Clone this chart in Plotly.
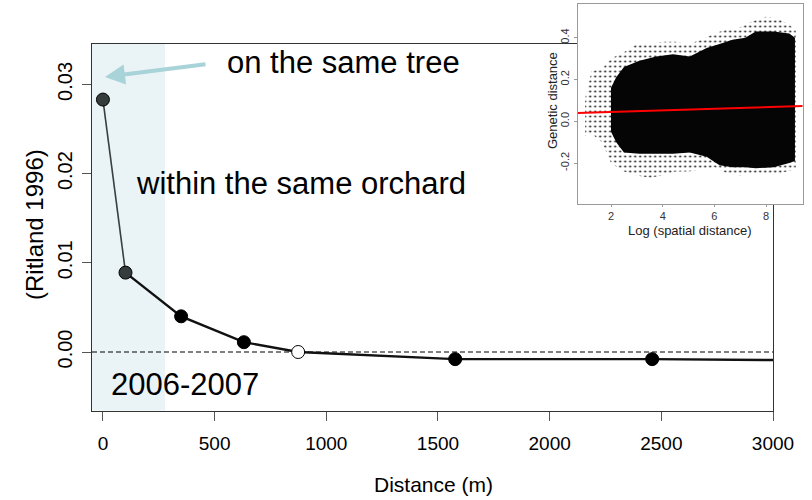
import plotly.graph_objects as go

# ---------------- data: main panel ----------------
DIST_M = [0, 101, 350, 631, 874, 1577, 2459]                 # distance class centres (m)
KINSHIP = [0.0283, 0.0089, 0.0040, 0.0011, 0.0000, -0.0008, -0.0008]
POINT_FILL = ["#363c3c", "#363c3c", "#000000", "#000000", "#ffffff", "#000000", "#000000"]
LINE_END_X = [3000]
LINE_END_Y = [-0.0009]
ORCHARD_LIMIT = 278                                         # end of the shaded "same orchard" band (m)
X_TICKS = [0, 500, 1000, 1500, 2000, 2500, 3000]
Y_TICKS = [0.00, 0.01, 0.02, 0.03]
Y_TICK_TEXT = ["0.00", "0.01", "0.02", "0.03"]
X_RANGE = [-49, 3000]
Y_RANGE = [-0.00658, 0.03453]

# ---------------- data: inset (density envelopes of the scatter cloud) ----------------
SPARSE_X = [1.0, 1.25, 1.65, 2.0, 2.5, 3.0, 3.5, 4.0, 4.5, 5.0, 5.5, 6.0, 6.5, 7.0, 7.5, 8.0, 8.5, 9.15]
SPARSE_UP = [0.11, 0.24, 0.25, 0.30, 0.33, 0.37, 0.37, 0.38, 0.38, 0.37, 0.39, 0.42, 0.44, 0.45, 0.48, 0.50, 0.49, 0.44]
SPARSE_LO = [-0.07, -0.06, -0.10, -0.20, -0.24, -0.26, -0.27, -0.26, -0.24, -0.24, -0.23, -0.22, -0.25, -0.26, -0.25, -0.25, -0.25, -0.23]
CORE_X = [2.0, 2.2, 2.5, 3.1, 3.75, 4.4, 5.05, 5.7, 6.2, 6.7, 7.2, 7.6, 8.3, 8.9, 9.12]
CORE_UP = [0.16, 0.21, 0.26, 0.29, 0.31, 0.32, 0.31, 0.35, 0.37, 0.39, 0.40, 0.43, 0.43, 0.42, 0.40]
CORE_LO = [-0.05, -0.10, -0.15, -0.155, -0.155, -0.155, -0.15, -0.17, -0.21, -0.22, -0.22, -0.225, -0.22, -0.20, -0.19]
FIT_X = [0.71, 9.42]
FIT_Y = [0.040, 0.073]
INSET_X_TICKS = [2, 4, 6, 8]
INSET_Y_TICKS = [-0.2, 0.0, 0.2, 0.4]
INSET_Y_TEXT = ["-0.2", "0.0", "0.2", "0.4"]
INSET_X_RANGE = [0.71, 9.42]
INSET_Y_RANGE = [-0.396, 0.561]

W, H = 812, 500
def px(x):
    return x / W
def py(y):
    return 1 - y / H

# main plot box (pixels)
M_L, M_R, M_T, M_B = 92, 773, 44, 410.7
# inset box (pixels)
I_L, I_R, I_T, I_B = 577.7, 802.7, 4, 204

ARIAL = "Arial, Liberation Sans, sans-serif"

fig = go.Figure()

# zero reference line
fig.add_trace(go.Scatter(x=X_RANGE, y=[0, 0], mode="lines",
                         line=dict(color="black", width=1, dash="5px,3px"),
                         hoverinfo="skip", showlegend=False, xaxis="x", yaxis="y"))
# connecting lines
fig.add_trace(go.Scatter(x=DIST_M[:2], y=KINSHIP[:2], mode="lines",
                         line=dict(color="#3a3f3f", width=1.6),
                         showlegend=False, xaxis="x", yaxis="y"))
fig.add_trace(go.Scatter(x=DIST_M[1:] + LINE_END_X, y=KINSHIP[1:] + LINE_END_Y, mode="lines",
                         line=dict(color="#111111", width=2.4),
                         showlegend=False, xaxis="x", yaxis="y"))
# points
fig.add_trace(go.Scatter(x=DIST_M, y=KINSHIP, mode="markers",
                         marker=dict(size=13, color=POINT_FILL, line=dict(color="#000000", width=1)),
                         showlegend=False, xaxis="x", yaxis="y", cliponaxis=False))

# inset cloud
fig.add_trace(go.Scatter(x=SPARSE_X + SPARSE_X[::-1], y=SPARSE_UP + SPARSE_LO[::-1],
                         fill="toself", mode="lines", line=dict(width=0, color="rgba(0,0,0,0)"),
                         fillcolor="rgba(0,0,0,0)",
                         fillpattern=dict(shape=".", fgcolor="#222222", bgcolor="rgba(255,255,255,0)",
                                          size=5, solidity=0.15),
                         showlegend=False, xaxis="x2", yaxis="y2", hoverinfo="skip"))
fig.add_trace(go.Scatter(x=CORE_X + CORE_X[::-1], y=CORE_UP + CORE_LO[::-1],
                         fill="toself", mode="lines", line=dict(width=0, color="rgba(0,0,0,0)"),
                         fillcolor="#050505",
                         showlegend=False, xaxis="x2", yaxis="y2", hoverinfo="skip"))
fig.add_trace(go.Scatter(x=FIT_X, y=FIT_Y, mode="lines",
                         line=dict(color="#ff0000", width=2),
                         showlegend=False, xaxis="x2", yaxis="y2"))

shapes = [
    # shaded orchard band
    dict(type="rect", xref="x", yref="y", x0=X_RANGE[0], x1=ORCHARD_LIMIT,
         y0=Y_RANGE[0], y1=Y_RANGE[1], fillcolor="#eaf3f5", line=dict(width=0), layer="below"),
    # white card behind the inset
    dict(type="rect", xref="x2 domain", yref="y2 domain",
         x0=(547 - I_L) / (I_R - I_L), x1=(W - I_L) / (I_R - I_L),
         y0=(I_B - 243) / (I_B - I_T), y1=(I_B - 0) / (I_B - I_T),
         fillcolor="white", line=dict(width=0), layer="below"),
]

annotations = [
    dict(text="on the same tree", x=px(225), y=py(62), xref="paper", yref="paper",
         xanchor="left", yanchor="middle", showarrow=False, font=dict(family=ARIAL, size=31, color="black")),
    dict(text="within the same orchard", x=px(134), y=py(183), xref="paper", yref="paper",
         xanchor="left", yanchor="middle", showarrow=False, font=dict(family=ARIAL, size=31, color="black")),
    dict(text="2006-2007", x=px(109), y=py(384), xref="paper", yref="paper",
         xanchor="left", yanchor="middle", showarrow=False, font=dict(family=ARIAL, size=31, color="black")),
    # arrow
    dict(text="", x=px(105), y=py(77), xref="paper", yref="paper",
         ax=207 - 105, ay=64 - 77, axref="pixel", ayref="pixel",
         showarrow=True, arrowhead=2, arrowsize=1, arrowwidth=4, arrowcolor="#a8d3d8"),
    # axis titles
    dict(text="(Ritland 1996)", x=px(35), y=py(225), xref="paper", yref="paper",
         textangle=-90, showarrow=False, xanchor="center", yanchor="middle",
         font=dict(family=ARIAL, size=24, color="black")),
    dict(text="Distance (m)", x=px(433), y=py(484), xref="paper", yref="paper",
         showarrow=False, xanchor="center", yanchor="middle",
         font=dict(family=ARIAL, size=21, color="black")),
    dict(text="Genetic distance", x=px(553), y=py(101), xref="paper", yref="paper",
         textangle=-90, showarrow=False, xanchor="center", yanchor="middle",
         font=dict(family=ARIAL, size=13, color="#222222")),
    dict(text="Log (spatial distance)", x=px(690), y=py(231), xref="paper", yref="paper",
         showarrow=False, xanchor="center", yanchor="middle",
         font=dict(family=ARIAL, size=13, color="#222222")),
]

fig.update_layout(
    template="none",
    width=W, height=H, autosize=False,
    margin=dict(l=0, r=0, t=0, b=0, pad=0),
    paper_bgcolor="white", plot_bgcolor="white",
    showlegend=False,
    shapes=shapes,
    annotations=annotations,
    xaxis=dict(domain=[px(M_L), px(M_R)], range=X_RANGE, tickvals=X_TICKS, automargin=False,
               showgrid=False, zeroline=False, showline=True, mirror=True,
               linecolor="#333333", linewidth=1.3, ticks="outside", ticklen=9,
               tickcolor="#555555", tickwidth=1.3,
               tickfont=dict(family=ARIAL, size=19, color="black"), ticklabelstandoff=6,
               fixedrange=True),
    yaxis=dict(domain=[py(M_B), py(M_T)], range=Y_RANGE, tickvals=Y_TICKS, ticktext=Y_TICK_TEXT,
               automargin=False,
               showgrid=False, zeroline=False, showline=True, mirror=True,
               linecolor="#333333", linewidth=1.3, ticks="outside", ticklen=9,
               tickcolor="#555555", tickwidth=1.3, tickangle=-90,
               tickfont=dict(family=ARIAL, size=20, color="black"), ticklabelstandoff=2,
               fixedrange=True),
    xaxis2=dict(domain=[px(I_L), px(I_R)], range=INSET_X_RANGE, tickvals=INSET_X_TICKS,
                anchor="y2", automargin=False, showgrid=False, zeroline=False, showline=True, mirror=True,
                linecolor="#9a9a9a", linewidth=1, ticks="outside", ticklen=2,
                tickcolor="#9a9a9a", tickfont=dict(family=ARIAL, size=11, color="#333333"),
                ticklabelstandoff=0, fixedrange=True),
    yaxis2=dict(domain=[py(I_B), py(I_T)], range=INSET_Y_RANGE, tickvals=INSET_Y_TICKS,
                ticktext=INSET_Y_TEXT, anchor="x2", automargin=False, showgrid=False, zeroline=False,
                showline=True, mirror=True, linecolor="#9a9a9a", linewidth=1,
                ticks="outside", ticklen=3, tickcolor="#9a9a9a", tickangle=-90,
                tickfont=dict(family=ARIAL, size=11, color="#333333"), fixedrange=True),
)

fig.write_html("out.html", config={"displayModeBar": False, "responsive": False},
               post_script="document.body.style.margin='0';document.body.style.overflow='hidden';")
